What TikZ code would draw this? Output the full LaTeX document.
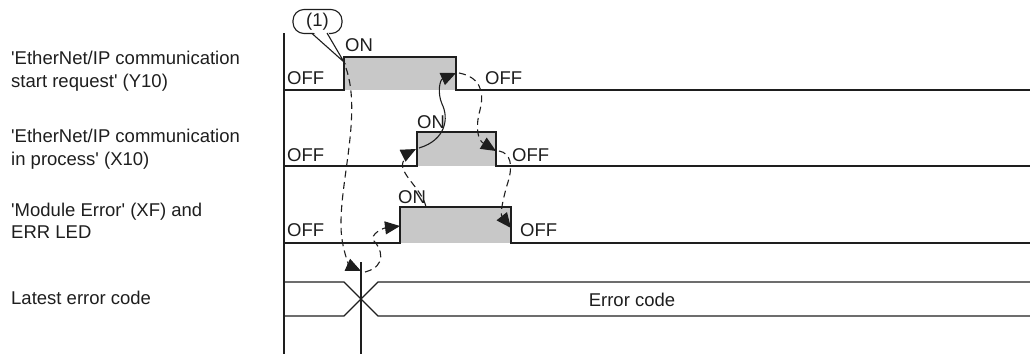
\documentclass[tikz,border=0pt]{standalone}
\usepackage{fontspec}
\setmainfont{Liberation Sans}[Ligatures=TeXOff]
\usetikzlibrary{arrows.meta,positioning}
\definecolor{pulsegray}{RGB}{200,200,200}
\definecolor{inkgray}{RGB}{30,30,30}

\begin{document}
\begin{tikzpicture}[x=1pt, y=-1pt,
  every node/.style={font=\fontsize{18.5}{22.5}\selectfont, text=inkgray},
  sig/.style={line width=1.3pt, draw=inkgray},
  state/.style={inner sep=0pt, anchor=west},
  lbl/.style={inner sep=0pt, anchor=west, align=left},
  darr/.style={-{Triangle[length=15pt,width=13pt]}, line width=1.1pt,
    dash pattern=on 7pt off 4.5pt, inkgray},
  sarr/.style={-{Triangle[length=15pt,width=13pt]}, line width=1.1pt, inkgray},
  bubble/.style={draw=inkgray, fill=white, line width=1.1pt,
    rounded corners=11pt, minimum width=49pt, minimum height=24pt, inner sep=0pt}
]
\useasboundingbox (0,0) rectangle (1030,354);

% signal names
\node[lbl] (y10lbl) at (11,71) {'EtherNet/IP communication\\start request' (Y10)};
\node[lbl] (x10lbl) at (11,149) {'EtherNet/IP communication\\in process' (X10)};
\node[lbl] (xflbl) at (11,221) {'Module Error' (XF) and\\ERR LED};
\node[lbl] (errlbl) at (11,298) {Latest error code};

% time axis
\draw[sig] (284,33) -- (284,354);

% pulses
\foreach \lo/\hi/\on/\off in {90/57/344/456, 166/132/417/496, 243/207/400/511}{
  \fill[pulsegray] (\on,\hi) rectangle (\off,\lo);
  \draw[sig] (284,\lo) -- (\on,\lo) -- (\on,\hi) -- (\off,\hi) -- (\off,\lo) -- (1030,\lo);
}

% error code bus
\draw[sig] (284,282) -- (344,282) -- (378,316) -- (1030,316);
\draw[sig] (284,316) -- (344,316) -- (378,282) -- (1030,282);
\draw[sig] (361,262) -- (361,354);
\node (errcode) at (632,300) {Error code};

% states
\node[state] (y10off1) at (287,78) {OFF};
\node[state] (y10on) at (345,45) {ON};
\node[state] (y10off2) at (485,78) {OFF};
\node[state] (x10off1) at (287,155) {OFF};
\node[state] (x10on) at (417,122) {ON};
\node[state] (x10off2) at (512,155) {OFF};
\node[state] (xfoff1) at (287,230) {OFF};
\node[state] (xfon) at (398,197) {ON};
\node[state] (xfoff2) at (520,230) {OFF};

% callout (1)
\node[bubble] (c1) at (317.5,21.5) {(1)};
\coordinate (c1l) at (312,33.5);
\coordinate (c1r) at (327,33);
\coordinate (c1tip) at (344,62);
\fill[white] (312,31) -- (c1tip) -- (327,30) -- cycle;
\draw[line width=1.1pt, inkgray] (c1l) -- (c1tip) -- (c1r);

% hand-over points
\coordinate (pY10on) at (346,68);
\coordinate (pErrIn) at (361,271);
\coordinate (pErrOut) at (365,272);
\coordinate (pXFon) at (400,226);
\coordinate (pXFtop) at (426,207);
\coordinate (pX10on) at (416,149);
\coordinate (pX10onB) at (419,148);
\coordinate (pY10off) at (456,73);
\coordinate (pY10offB) at (459,73);
\coordinate (pX10off) at (496,151);
\coordinate (pX10offB) at (499,151);
\coordinate (pXFoff) at (511,228);

% sequence arrows
\draw[darr] (pY10on) .. controls (364,120) and (333,200) .. (343,245)
  .. controls (346,260) and (350,266) .. (pErrIn);
\draw[darr] (pErrOut) .. controls (388,266) and (381,248) .. (374,241)
  .. controls (369,234) and (384,228) .. (pXFon);
\draw[darr] (pXFtop) .. controls (422,188) and (396,172) .. (404,160)
  .. controls (407,155) and (410,152) .. (pX10on);
\draw[sarr] (pX10onB) .. controls (446,140) and (449,118) .. (442,104)
  .. controls (437,92) and (440,80) .. (pY10off);
\draw[darr] (pY10offB) .. controls (479,77) and (485,90) .. (480,110)
  .. controls (475,128) and (478,140) .. (pX10off);
\draw[darr] (pX10offB) .. controls (511,153) and (513,166) .. (508,182)
  .. controls (503,198) and (500,214) .. (pXFoff);
\end{tikzpicture}
\end{document}
